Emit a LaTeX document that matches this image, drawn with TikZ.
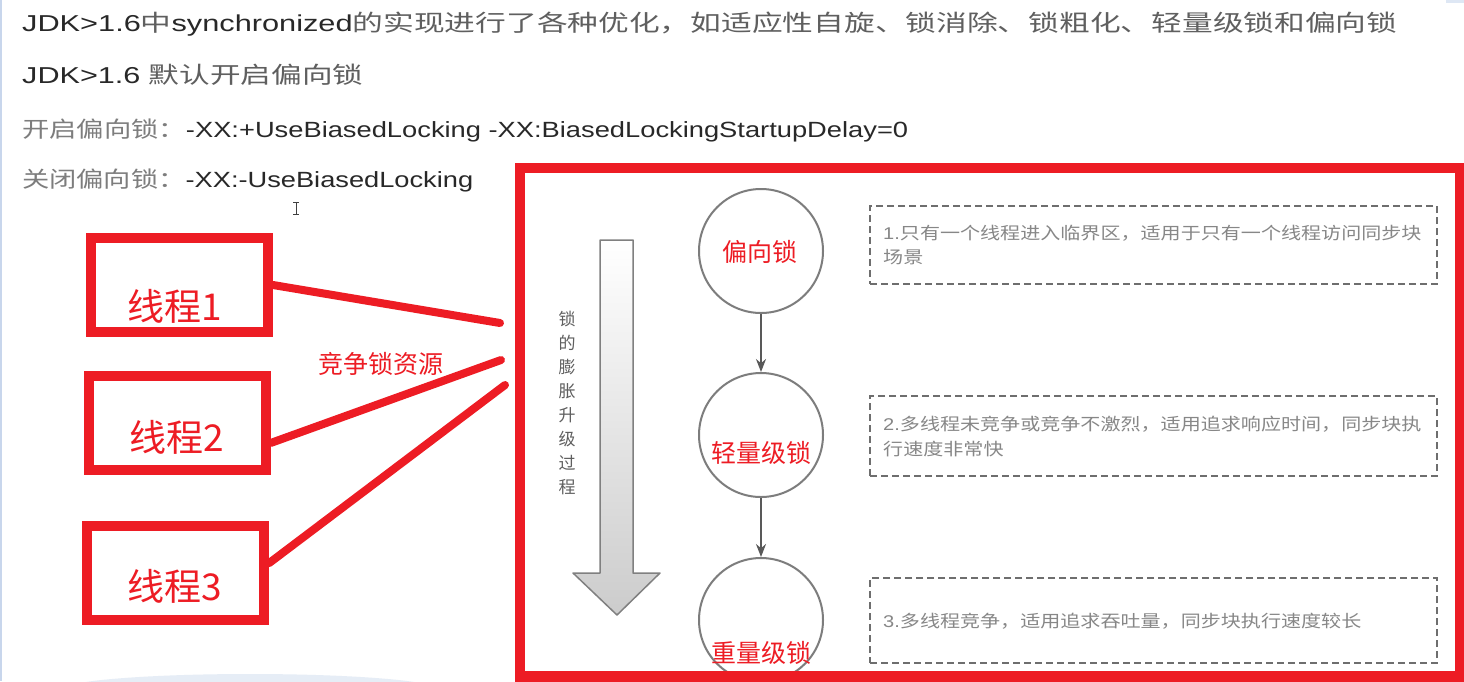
\documentclass[tikz,border=0pt]{standalone}
\usepackage{fontspec}
\usepackage{graphicx}
\setmainfont{Liberation Sans}
\newfontfamily\cjk{Noto Sans CJK SC}
\usetikzlibrary{arrows.meta}
\definecolor{myred}{RGB}{237,28,36}
\definecolor{txtdark}{RGB}{40,40,40}
\definecolor{txtgray}{RGB}{95,95,95}
\definecolor{txtlight}{RGB}{125,125,125}
\definecolor{circlegray}{RGB}{125,125,125}
\definecolor{dashgray}{RGB}{110,110,110}
\definecolor{notegray}{RGB}{135,135,135}
\definecolor{edgeblue}{RGB}{200,214,236}
\newcommand{\hstretch}[2]{\resizebox{#1}{\height}{#2}}
\begin{document}
\begin{tikzpicture}[x=1pt,y=-1pt,
  headline/.style={anchor=west, inner sep=0pt, text=txtdark},
  threadbox/.style={draw=myred, line width=10pt, minimum width=177pt, minimum height=94pt, inner sep=0pt},
  threadtext/.style={text=myred, font=\cjk\fontsize{37}{37}\selectfont, inner sep=0pt},
  contend/.style={draw=myred, line width=8pt, line cap=round},
  lockcircle/.style={circle, draw=circlegray, line width=2pt, minimum size=124pt, inner sep=0pt},
  locklabel/.style={text=myred, font=\cjk\fontsize{25}{25}\selectfont, inner sep=0pt},
  notebox/.style={draw=dashgray, line width=2pt, dash pattern=on 7pt off 4pt, minimum width=567pt, inner sep=0pt},
  notetext/.style={anchor=west, inner sep=0pt, text=notegray, font=\cjk\fontsize{17}{17}\selectfont},
  flowarrow/.style={-{Stealth[length=13pt,width=10pt]}, draw=black!65, fill=black!80, line width=1.6pt}
]
\useasboundingbox (0,0) rectangle (1464,681);
\fill[white] (0,0) rectangle (1464,681);
% screen artefacts
\fill[edgeblue] (0,0) rectangle (2,681);
\fill[edgeblue!60] (1446,0) rectangle (1464,3);
\fill[edgeblue!45] (250,690) ellipse [x radius=190, y radius=16];

% header lines
\node[headline] (h1) at (22,24) {\hstretch{1375pt}{\fontsize{23}{23}\selectfont JDK>1.6{\cjk\color{txtgray}中}synchronized{\cjk\color{txtgray}的实现进行了各种优化，如适应性自旋、锁消除、锁粗化、轻量级锁和偏向锁}}};
\node[headline] (h2) at (22,75) {\hstretch{341pt}{\fontsize{23}{23}\selectfont JDK>1.6 {\cjk\color{txtgray}默认开启偏向锁}}};
\node[headline] (h3) at (22,130) {\hstretch{886pt}{\fontsize{22}{22}\selectfont{\cjk\color{txtlight}开启偏向锁：}-XX:+UseBiasedLocking -XX:BiasedLockingStartupDelay=0}};
\node[headline] (h4) at (22,180) {\hstretch{451pt}{\fontsize{22}{22}\selectfont{\cjk\color{txtlight}关闭偏向锁：}-XX:-UseBiasedLocking}};

% text cursor
\draw[black!75, line width=1pt] (293,202) -- (299,202) (296,202) -- (296,214) (293,214) -- (299,214);

% threads
\node[threadbox] (t1) at (179.5,285) {};
\node[threadbox] (t2) at (177.5,423) {};
\node[threadbox] (t3) at (175.5,573) {};
\node[threadtext] (t1l) at (175,306) {线程1};
\node[threadtext] (t2l) at (177,437) {线程2};
\node[threadtext] (t3l) at (175,586) {线程3};

\coordinate (e1) at (500,323);
\coordinate (e2) at (501,360);
\coordinate (e3) at (505,385);
\draw[contend] (t1.east) -- (e1);
\draw[contend] (t2.-12) -- (e2);
\draw[contend] (t3.6) -- (e3);
\node[text=myred, font=\cjk\fontsize{25}{25}\selectfont, inner sep=0pt] (res) at (381,364) {竞争锁资源};

% big red frame
\draw[myred, line width=10pt] (520,168) rectangle (1459.5,676);

% inflation arrow
\shade[top color=white, bottom color=black!20, draw=black!50, line width=1.5pt, line join=round]
  (600,240) -- (633,240) -- (633,573) -- (660,573) -- (617,615) -- (573,573) -- (600,573) -- cycle;
\node[align=center, text=txtgray, font=\cjk\fontsize{17}{24}\selectfont, inner sep=0pt] (vt) at (567,403)
  {锁\\的\\膨\\胀\\升\\级\\过\\程};

% lock circles
\node[lockcircle] (c1) at (761,251) {};
\node[lockcircle] (c2) at (761,435) {};
\node[lockcircle] (c3) at (761,620) {};
\draw[flowarrow] (c1) -- (c2);
\draw[flowarrow] (c2) -- (c3);
\node[locklabel] (c1l) at (760,252) {偏向锁};
\node[locklabel] (c2l) at (761.5,453) {轻量级锁};
\node[locklabel] (c3l) at (761.5,653) {重量级锁};

% cover bottom of circle 3 with frame
\fill[myred] (515,671) rectangle (1464,692);

% notes
\node[notebox, minimum height=78pt] (n1) at (1153.5,245) {};
\node[notebox, minimum height=80pt] (n2) at (1153.5,436) {};
\node[notebox, minimum height=85pt] (n3) at (1153.5,620.5) {};
\node[notetext] (n1a) at (883,233) {\scalebox{1.18}[1]{{\fontspec{Liberation Sans}1.}只有一个线程进入临界区，适用于只有一个线程访问同步块}};
\node[notetext] (n1b) at (883,257) {\scalebox{1.18}[1]{场景}};
\node[notetext] (n2a) at (883,424) {\scalebox{1.18}[1]{{\fontspec{Liberation Sans}2.}多线程未竞争或竞争不激烈，适用追求响应时间，同步块执}};
\node[notetext] (n2b) at (883,449) {\scalebox{1.18}[1]{行速度非常快}};
\node[notetext] (n3a) at (883,621) {\scalebox{1.18}[1]{{\fontspec{Liberation Sans}3.}多线程竞争，适用追求吞吐量，同步块执行速度较长}};
\end{tikzpicture}
\end{document}
